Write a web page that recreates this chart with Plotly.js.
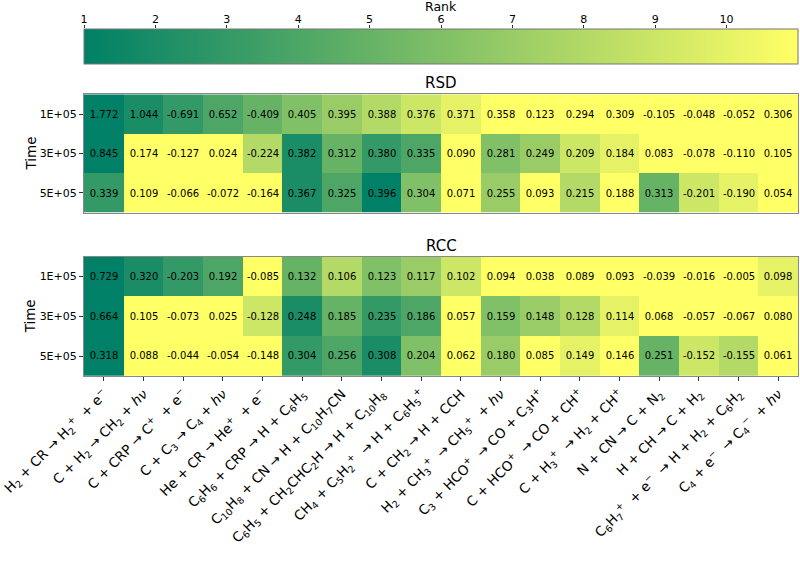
<!DOCTYPE html>
<html>
<head>
<meta charset="utf-8">
<script src="https://cdn.plot.ly/plotly-3.0.1.min.js"></script>
<style>html,body{margin:0;padding:0;background:#fff;}#chart{width:800px;height:561px;}</style>
</head>
<body>
<div id="chart"></div>
<script>
const reactions = [
  'H<sub>2</sub> + CR → H<sub>2</sub><sup>+</sup>\u00A0\u00A0+ e<sup>−</sup>',
  'C + H<sub>2</sub> → CH<sub>2</sub> + <i>hν</i>',
  'C + CRP → C<sup>+</sup>\u00A0\u00A0+ e<sup>−</sup>',
  'C + C<sub>3</sub> → C<sub>4</sub> + <i>hν</i>',
  'He + CR → He<sup>+</sup>\u00A0\u00A0+ e<sup>−</sup>',
  'C<sub>6</sub>H<sub>6</sub> + CRP → H + C<sub>6</sub>H<sub>5</sub>',
  'C<sub>10</sub>H<sub>8</sub> + CN → H + C<sub>10</sub>H<sub>7</sub>CN',
  'C<sub>6</sub>H<sub>5</sub> + CH<sub>2</sub>CHC<sub>2</sub>H → H + C<sub>10</sub>H<sub>8</sub>',
  'CH<sub>4</sub> + C<sub>5</sub>H<sub>2</sub><sup>+</sup>\u00A0\u00A0→ H + C<sub>6</sub>H<sub>5</sub><sup>+</sup>',
  'C + CH<sub>2</sub> → H + CCH',
  'H<sub>2</sub> + CH<sub>3</sub><sup>+</sup>\u00A0\u00A0→ CH<sub>5</sub><sup>+</sup>\u00A0\u00A0+ <i>hν</i>',
  'C<sub>3</sub> + HCO<sup>+</sup>\u00A0\u00A0→ CO + C<sub>3</sub>H<sup>+</sup>',
  'C + HCO<sup>+</sup>\u00A0\u00A0→ CO + CH<sup>+</sup>',
  'C + H<sub>3</sub><sup>+</sup>\u00A0\u00A0→ H<sub>2</sub> + CH<sup>+</sup>',
  'N + CN → C + N<sub>2</sub>',
  'H + CH → C + H<sub>2</sub>',
  'C<sub>6</sub>H<sub>7</sub><sup>+</sup>\u00A0\u00A0+ e<sup>−</sup>\u00A0\u00A0→ H + H<sub>2</sub> + C<sub>6</sub>H<sub>2</sub>',
  'C<sub>4</sub> + e<sup>−</sup>\u00A0\u00A0→ C<sub>4</sub><sup>−</sup>\u00A0\u00A0+ <i>hν</i>'
];
const times = ['1E+05', '3E+05', '5E+05'];

const rsdValues = [
  [1.772, 1.044, -0.691, 0.652, -0.409, 0.405, 0.395, 0.388, 0.376, 0.371, 0.358, 0.123, 0.294, 0.309, -0.105, -0.048, -0.052, 0.306],
  [0.845, 0.174, -0.127, 0.024, -0.224, 0.382, 0.312, 0.380, 0.335, 0.090, 0.281, 0.249, 0.209, 0.184, 0.083, -0.078, -0.110, 0.105],
  [0.339, 0.109, -0.066, -0.072, -0.164, 0.367, 0.325, 0.396, 0.304, 0.071, 0.255, 0.093, 0.215, 0.188, 0.313, -0.201, -0.190, 0.054]
];
const rccValues = [
  [0.729, 0.320, -0.203, 0.192, -0.085, 0.132, 0.106, 0.123, 0.117, 0.102, 0.094, 0.038, 0.089, 0.093, -0.039, -0.016, -0.005, 0.098],
  [0.664, 0.105, -0.073, 0.025, -0.128, 0.248, 0.185, 0.235, 0.186, 0.057, 0.159, 0.148, 0.128, 0.114, 0.068, -0.057, -0.067, 0.080],
  [0.318, 0.088, -0.044, -0.054, -0.148, 0.304, 0.256, 0.308, 0.204, 0.062, 0.180, 0.085, 0.149, 0.146, 0.251, -0.152, -0.155, 0.061]
];
const rsdRank = [
  [1, 2, 3, 4, 5, 6, 7, 8, 9, 10, 11, 15, 14, 12, 16, 18, 17, 13],
  [1, 11, 12, 18, 8, 2, 5, 3, 4, 15, 6, 7, 9, 10, 16, 17, 13, 14],
  [3, 13, 17, 15, 12, 2, 4, 1, 6, 16, 7, 14, 8, 11, 5, 9, 10, 18]
];
const rccRank = [
  [1, 2, 3, 4, 14, 5, 8, 6, 7, 9, 11, 16, 13, 12, 15, 17, 18, 10],
  [1, 11, 13, 18, 9, 2, 5, 3, 4, 16, 6, 7, 8, 10, 14, 17, 15, 12],
  [1, 13, 18, 17, 11, 3, 4, 2, 6, 15, 7, 14, 10, 12, 5, 9, 8, 16]
];
const rankTicks = [1, 2, 3, 4, 5, 6, 7, 8, 9, 10];
const rankRange = [1, 11];

const FONT = 'DejaVu Sans, sans-serif';
const summer = [[0, 'rgb(0,128,102)'], [1, 'rgb(255,255,102)']];
const fmt = m => m.map(r => r.map(v => v.toFixed(3)));

const common = {
  type: 'heatmap',
  x: reactions,
  y: times,
  colorscale: summer,
  zmin: rankRange[0],
  zmax: rankRange[1],
  texttemplate: '%{text}',
  textfont: {family: FONT, size: 10, color: '#000'},
  hoverinfo: 'skip'
};

const traces = [
  Object.assign({}, common, {
    z: rsdRank, text: fmt(rsdValues), xaxis: 'x2', yaxis: 'y2',
    showscale: true,
    colorbar: {
      orientation: 'h', lenmode: 'pixels', len: 714, thicknessmode: 'pixels', thickness: 35,
      x: 0.5, xanchor: 'center', y: 1, yanchor: 'top', xpad: 0, ypad: 0,
      showticklabels: false, ticks: '', outlinewidth: 1, outlinecolor: '#777'
    }
  }),
  Object.assign({}, common, {
    z: rccRank, text: fmt(rccValues), xaxis: 'x', yaxis: 'y', showscale: false
  }),
  {type: 'scatter', x: [], y: [], xaxis: 'x3', yaxis: 'y3', showlegend: false, hoverinfo: 'skip'}
];

const frame = {showline: true, mirror: true, linecolor: '#888', linewidth: 1, showgrid: false, zeroline: false};

const layout = {
  width: 800, height: 561,
  margin: {l: 84, r: 2, t: 29, b: 185},
  paper_bgcolor: '#fff', plot_bgcolor: '#fff',
  font: {family: FONT, color: '#000'},
  showlegend: false,
  xaxis: Object.assign({}, frame, {
    domain: [0, 1], anchor: 'y', type: 'category', tickangle: -45,
    ticks: 'outside', ticklen: 4, tickcolor: '#333', tickfont: {size: 13.5}
  }),
  yaxis: Object.assign({}, frame, {
    domain: [0, 0.3438], anchor: 'x', type: 'category', autorange: 'reversed',
    ticks: 'outside', ticklen: 4, tickcolor: '#333', tickfont: {size: 11}
  }),
  xaxis2: Object.assign({}, frame, {
    domain: [0, 1], anchor: 'y2', type: 'category', showticklabels: false, ticks: ''
  }),
  yaxis2: Object.assign({}, frame, {
    domain: [0.4706, 0.8118], anchor: 'x2', type: 'category', autorange: 'reversed',
    ticks: 'outside', ticklen: 4, tickcolor: '#333', tickfont: {size: 11}
  }),
  xaxis3: {
    domain: [0, 1], anchor: 'y3', side: 'top', range: rankRange, tickvals: rankTicks,
    ticks: 'outside', ticklen: 3, tickcolor: '#333', tickfont: {size: 11},
    ticklabelstandoff: -2,
    showgrid: false, zeroline: false, showline: false
  },
  yaxis3: {domain: [0.896, 1], anchor: 'x3', range: [0, 1], visible: false},
  annotations: [
    {text: 'Rank', xref: 'paper', yref: 'paper', x: 0.5, y: 1, yanchor: 'middle', yshift: 22.5,
     showarrow: false, font: {size: 12.5}, borderpad: 0},
    {text: 'RSD', xref: 'paper', yref: 'paper', x: 0.5, y: 0.8118, yanchor: 'bottom', yshift: 0,
     showarrow: false, font: {size: 15}},
    {text: 'RCC', xref: 'paper', yref: 'paper', x: 0.5, y: 0.3438, yanchor: 'bottom', yshift: 0,
     showarrow: false, font: {size: 15}},
    {text: 'Time', xref: 'paper', yref: 'paper', x: -0.0756, xanchor: 'center', y: (0.4706 + 0.8118) / 2,
     yanchor: 'middle', textangle: -90, showarrow: false, font: {size: 13.5}},
    {text: 'Time', xref: 'paper', yref: 'paper', x: -0.0756, xanchor: 'center', y: 0.3438 / 2,
     yanchor: 'middle', textangle: -90, showarrow: false, font: {size: 13.5}}
  ]
};

Plotly.newPlot('chart', traces, layout, {displayModeBar: false, staticPlot: true});
</script>
</body>
</html>
